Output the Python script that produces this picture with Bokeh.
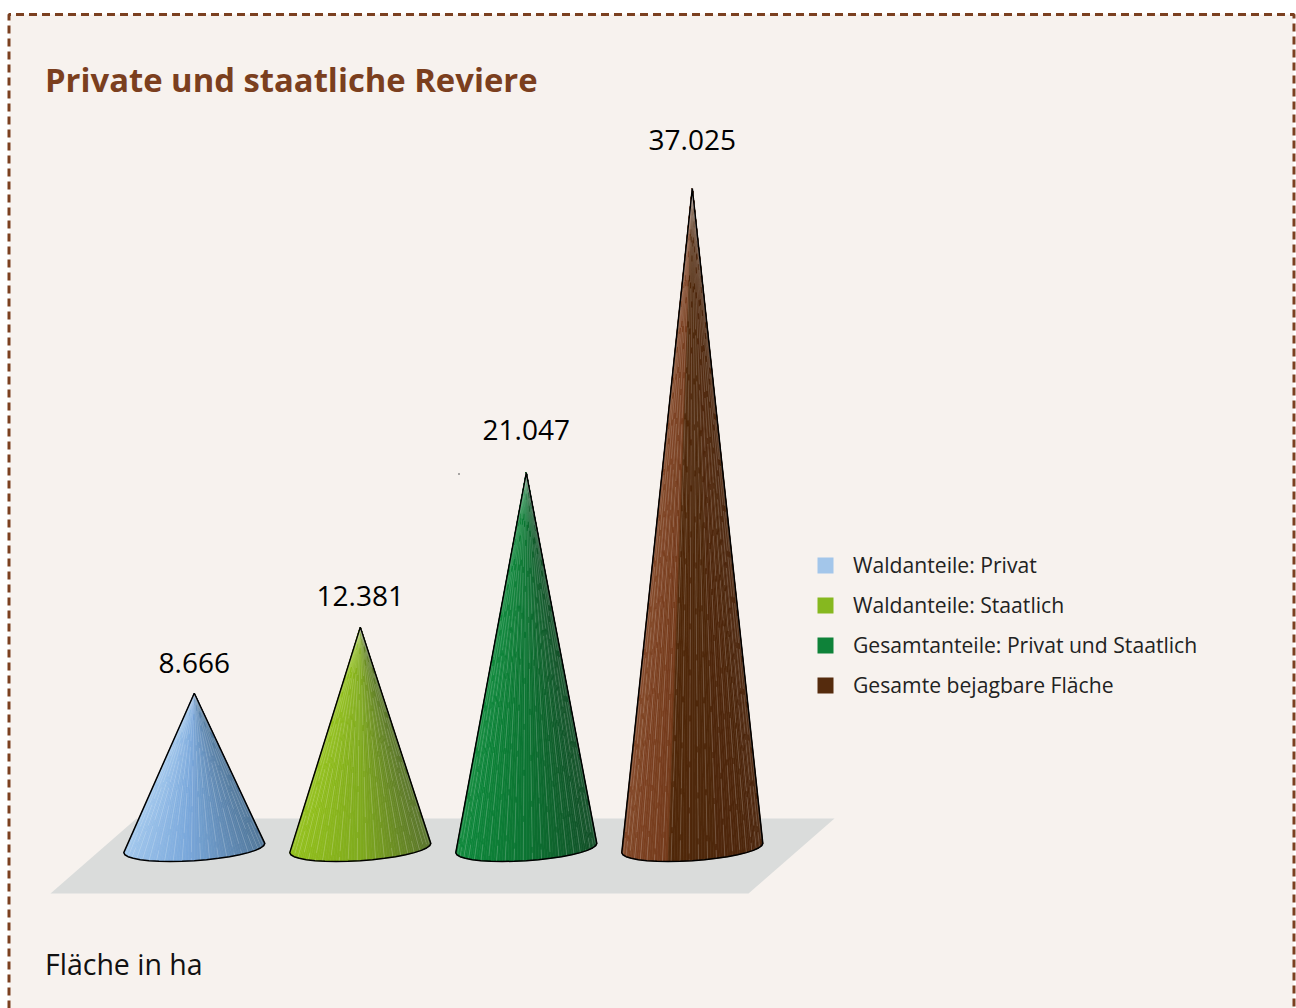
import math
from bokeh.core.properties import value
from bokeh.embed import file_html
from bokeh.models import ColumnDataSource, Legend, LegendItem, Range1d
from bokeh.plotting import figure
from bokeh.resources import INLINE

# ---- data ----
categories = ["Waldanteile: Privat", "Waldanteile: Staatlich",
              "Gesamtanteile: Privat und Staatlich", "Gesamte bejagbare Fläche"]
values = [8666, 12381, 21047, 37025]
value_labels = ["8.666", "12.381", "21.047", "37.025"]
legend_colors = ["#A3C6EA", "#86B81F", "#0E8239", "#552B0D"]
title_text = "Private und staatliche Reviere"
unit_text = "Fläche in ha"

# ---- style: colour stops along each cone (position, colour) ----
cone_stops = [
    [(0, "#A2C8EE"), (.45, "#7AA8DB"), (1, "#507699")],
    [(0, "#94C21C"), (.5, "#80AB1E"), (1, "#58732A")],
    [(0, "#0F8A3C"), (.5, "#0C7432"), (1, "#134F28")],
    [(0, "#824626"), (.335, "#743B1C"), (.34, "#50280A"), (1, "#4E270D")],
]
label_gap = [30, 31, 43, 48]

# ---- layout (page pixels) ----
W, H = 1296, 1008
X0, DX = 193.8, 166.0      # page x of first cone, spacing
ZERO_Y, K = 847.0, 0.0178  # page y of value 0, pixels per hectare
HALF = 70.5

def ux(px):
    return (px - X0) / DX

def uy(py):
    return (ZERO_Y - py) / K

def hex_rgb(c):
    return tuple(int(c[i:i + 2], 16) for i in (1, 3, 5))

def ramp(stops, t):
    for (a, ca), (b, cb) in zip(stops, stops[1:]):
        if t <= b:
            f = (t - a) / (b - a)
            ra, rb = hex_rgb(ca), hex_rgb(cb)
            return "#%02X%02X%02X" % tuple(round(x + (y - x) * f) for x, y in zip(ra, rb))
    return stops[-1][1]

p = figure(width=W, height=H, toolbar_location=None, output_backend="svg",
           x_range=Range1d(ux(0), ux(W)), y_range=Range1d(uy(H), uy(0)),
           x_axis_type="linear", min_border=0, outline_line_color=None,
           background_fill_color="#FFFFFF", border_fill_color="#FFFFFF")
p.axis.visible = False
p.grid.visible = False

# panel with dashed frame (the bottom edge lies below the page)
p.patch([ux(9), ux(1293), ux(1293), ux(9)], [uy(14), uy(14), uy(1008), uy(1008)],
        fill_color="#F7F2EE", line_color=None)
p.line([ux(8.5), ux(8.5), ux(1293.5), ux(1293.5)], [uy(1008), uy(14), uy(14), uy(1008)],
       line_color="#7B4020", line_width=3, line_dash="8 5")

# floor
p.patch([ux(136), ux(834), ux(748), ux(50)], [uy(818), uy(818), uy(893), uy(893)],
        fill_color="#DADCDB", line_color=None)

# cones
N = 72
for i, v in enumerate(values):
    cx = X0 + i * DX
    base = []
    for k in range(N + 1):
        a = math.pi * k / N
        bx = cx - HALF * math.cos(a)
        by = ZERO_Y + 0.5 + 12.7 * math.sin(a) + 4.6 * math.cos(a)
        base.append((ux(bx), uy(by)))
    xs, ys, cols = [], [], []
    for k in range(N):
        xs.append([float(i), base[k][0], base[k + 1][0]])
        ys.append([v, base[k][1], base[k + 1][1]])
        t = (base[k][0] + base[k + 1][0]) / 2 - i
        cols.append(ramp(cone_stops[i], (t * DX + HALF) / (2 * HALF)))
    p.patches(xs, ys, fill_color=cols, line_color=cols, line_width=0.6)
    # pale seam lines of the faceted surface
    seams = list(range(2, N, 3))
    p.multi_line([[float(i), base[k][0]] for k in seams],
                 [[v, base[k][1]] for k in seams],
                 line_color="#FFFFFF", line_alpha=0.26, line_width=0.7, line_dash="40 6",
                 line_dash_offset=[(k * k * 7) % 46 for k in seams])
    outline = base[::4]
    p.line([float(i)] + [b[0] for b in outline] + [float(i)],
           [v] + [b[1] for b in outline] + [v],
           line_color="#000000", line_width=1.5, line_join="round")

# value labels
src = ColumnDataSource(dict(x=[float(i) for i in range(len(values))], y=values,
                            t=value_labels, off=[-g for g in label_gap]))
p.text("x", "y", text="t", source=src, y_offset="off", text_align="center",
       text_baseline="alphabetic", text_color="#000000", text_font_size="28px",
       text_font=value("Open Sans"))

# stray dot next to the third cone, as in the reference
p.scatter([ux(458.5)], [uy(473.5)], size=1.5, color="#333333", line_color=None)

# title and unit
p.text([ux(44.5)], [uy(79)], text=[title_text], text_font=value("Open Sans"),
       text_font_style="bold", text_font_size="32.8px", text_color="#7B3F1E",
       text_baseline="alphabetic")
p.text([ux(44.5)], [uy(963)], text=[unit_text], text_font=value("Open Sans"),
       text_font_size="28.5px", text_color="#111111", text_baseline="alphabetic")

# legend (swatch sources lie outside the visible range)
items = []
for name, c in zip(categories, legend_colors):
    r = p.quad(left=[-100], right=[-99], top=[1], bottom=[0], fill_color=c, line_color=None)
    items.append(LegendItem(label=name, renderers=[r]))
legend = Legend(items=items, location=(815, 1008 - 699), orientation="vertical",
                background_fill_alpha=0, border_line_color=None, padding=8, margin=0,
                glyph_width=20, glyph_height=20, label_height=16, spacing=11,
                label_standoff=18, label_text_font="Open Sans",
                label_text_font_size="21.15px", label_text_color="#222222")
p.add_layout(legend, "center")

open("out.html", "w").write(file_html(p, INLINE))
